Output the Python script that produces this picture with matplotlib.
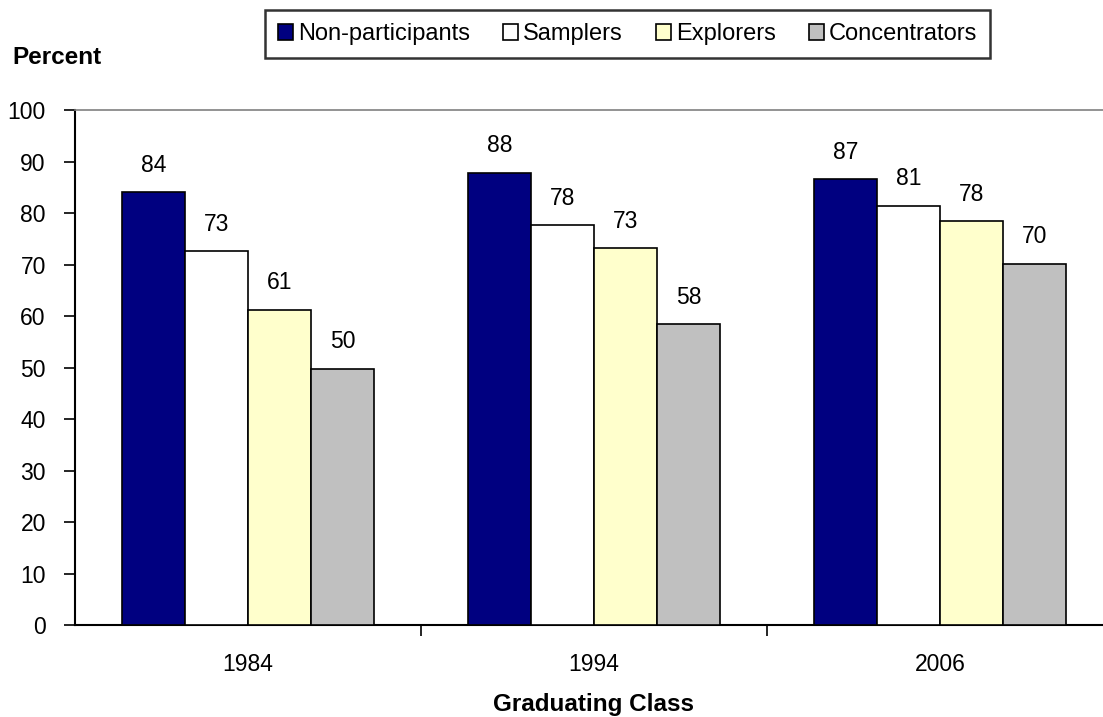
import numpy as np
import matplotlib.pyplot as plt
from matplotlib.patches import Patch

plt.rcParams['font.family'] = ['Liberation Sans', 'DejaVu Sans']

years = ['1984', '1994', '2006']
groups = ['Non-participants', 'Samplers', 'Explorers', 'Concentrators']
non_participants = [84.0, 87.8, 86.6]
samplers = [72.6, 77.6, 81.4]
explorers = [61.2, 73.2, 78.4]
concentrators = [49.8, 58.4, 70.2]
colors = ['#000080', '#ffffff', '#ffffcc', '#c0c0c0']

series = [non_participants, samplers, explorers, concentrators]

fig = plt.figure(figsize=(11.03, 7.17), dpi=100)
ax = fig.add_axes([0.068, 0.128, 0.941, 0.7186])

x = np.arange(len(years))
w = 0.182
for i, (vals, c) in enumerate(zip(series, colors)):
    pos = x + (i - 1.5) * w
    ax.bar(pos, vals, width=w, color=c, edgecolor='black', linewidth=1.2, zorder=3)
    for p, v in zip(pos, vals):
        ax.text(p, v + 3.0, f"{v:.0f}", ha='center', va='bottom', fontsize=16.5)

ax.set_xlim(-0.5, 2.5)
ax.set_ylim(0, 100)
ax.set_yticks(range(0, 101, 10))
ax.set_xticks(x)
ax.set_xticklabels(years)
ax.set_xticks([0.5, 1.5, 2.5], minor=True)
ax.tick_params(axis='x', which='major', length=0, pad=20, labelsize=16.5)
ax.tick_params(axis='x', which='minor', length=8, width=1.2, direction='out')
ax.tick_params(axis='y', length=8, width=1.2, direction='out', labelsize=16.5, pad=13)

for s in ['left', 'bottom']:
    ax.spines[s].set_linewidth(1.5)
ax.spines['top'].set_color('#808080')
ax.spines['top'].set_linewidth(1.2)
ax.spines['right'].set_visible(False)

ax.set_xlabel('Graduating Class', fontsize=17.5, fontweight='bold', labelpad=12)
fig.text(0.011, 0.920, 'Percent', fontsize=17.5, fontweight='bold', va='center')

handles = [Patch(facecolor=c, edgecolor='black', linewidth=1.2) for c in colors]
leg = fig.legend(handles, groups, ncol=4, loc='center', bbox_to_anchor=(0.5689, 0.9526),
                 fontsize=17, frameon=True, fancybox=False, edgecolor='black',
                 handlelength=0.65, handleheight=0.65, handletextpad=0.2, columnspacing=1.4,
                 borderpad=0.55, borderaxespad=0)
leg.get_frame().set_linewidth(1.8)

fig.savefig('out.png', dpi=100)
